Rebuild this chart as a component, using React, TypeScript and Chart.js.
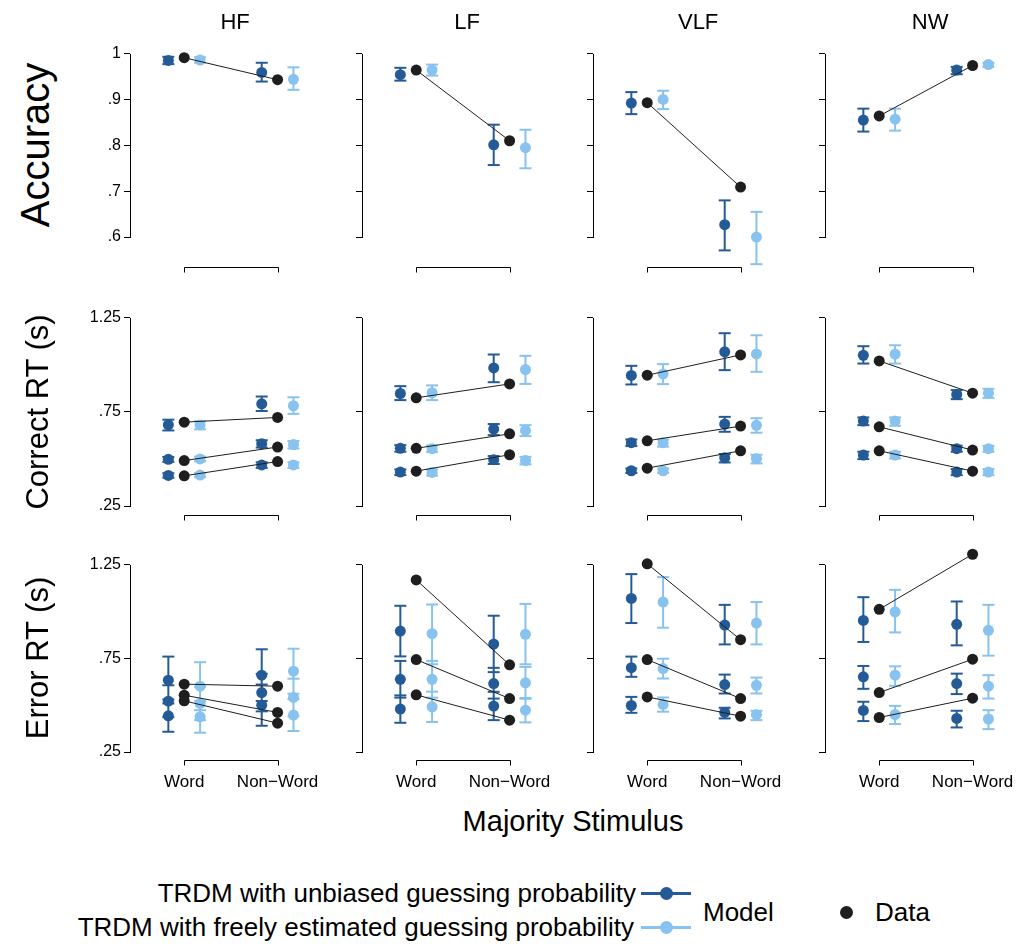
import React, { useEffect, useRef } from "react";
import { Chart, registerables } from "chart.js";
Chart.register(...registerables);

// ---------------- DATA ----------------
const PANELS = ["HF", "LF", "VLF", "NW"];
const ROW_LABELS = ["Accuracy", "Correct RT (s)", "Error RT (s)"];
const CATEGORIES = ["Word", "Non\u2212Word"];
const ACC_TICKS = [0.6, 0.7, 0.8, 0.9, 1];
const ACC_TICK_LABELS = [".6", ".7", ".8", ".9", "1"];
const RT_TICKS = [0.25, 0.75, 1.25];
const RT_TICK_LABELS = [".25", ".75", "1.25"];
const X_LABEL = "Majority Stimulus";
const LEGEND_UNBIASED = "TRDM with unbiased guessing probability";
const LEGEND_FREE = "TRDM with freely estimated guessing probability";
const LEGEND_MODEL = "Model";
const LEGEND_DATA = "Data";

// Accuracy: per panel [Word, Non-Word]
const accData = [[0.991, 0.943], [0.964, 0.810], [0.893, 0.709], [0.864, 0.974]];
const accUnb = [[0.985, 0.959], [0.954, 0.801], [0.892, 0.627], [0.855, 0.964]];
const accUnbLo = [[0.977, 0.939], [0.941, 0.757], [0.868, 0.571], [0.830, 0.955]];
const accUnbHi = [[0.993, 0.980], [0.969, 0.845], [0.916, 0.680], [0.880, 0.971]];
const accFree = [[0.986, 0.944], [0.964, 0.795], [0.900, 0.600], [0.857, 0.976]];
const accFreeLo = [[0.980, 0.921], [0.952, 0.750], [0.879, 0.541], [0.832, 0.971]];
const accFreeHi = [[0.992, 0.970], [0.976, 0.834], [0.919, 0.655], [0.880, 0.980]];

// Correct RT: per panel, per quantile (.1, .5, .9), [Word, Non-Word]
const crtData = [
  [[0.410, 0.486], [0.491, 0.563], [0.695, 0.720]],
  [[0.435, 0.522], [0.556, 0.633], [0.824, 0.898]],
  [[0.451, 0.543], [0.596, 0.674], [0.944, 1.052]],
  [[0.543, 0.435], [0.670, 0.547], [1.020, 0.849]],
];
const crtUnb = [
  [[0.412, 0.468], [0.498, 0.581], [0.681, 0.792]],
  [[0.430, 0.496], [0.556, 0.658], [0.847, 0.983]],
  [[0.437, 0.506], [0.586, 0.685], [0.943, 1.068]],
  [[0.520, 0.430], [0.701, 0.554], [1.050, 0.842]],
];
const crtUnbLo = [
  [[0.400, 0.452], [0.484, 0.560], [0.651, 0.754]],
  [[0.414, 0.473], [0.538, 0.626], [0.812, 0.907]],
  [[0.425, 0.481], [0.568, 0.644], [0.895, 0.971]],
  [[0.499, 0.414], [0.679, 0.538], [1.006, 0.817]],
];
const crtUnbHi = [
  [[0.424, 0.482], [0.510, 0.599], [0.708, 0.831]],
  [[0.444, 0.515], [0.573, 0.685], [0.886, 1.054]],
  [[0.449, 0.526], [0.603, 0.723], [0.994, 1.167]],
  [[0.538, 0.446], [0.720, 0.570], [1.098, 0.865]],
];
const crtFree = [
  [[0.414, 0.468], [0.500, 0.576], [0.680, 0.782]],
  [[0.428, 0.492], [0.554, 0.651], [0.851, 0.974]],
  [[0.437, 0.501], [0.586, 0.678], [0.951, 1.057]],
  [[0.520, 0.430], [0.701, 0.554], [1.056, 0.849]],
];
const crtFreeLo = [
  [[0.403, 0.452], [0.487, 0.555], [0.657, 0.739]],
  [[0.411, 0.471], [0.536, 0.621], [0.812, 0.898]],
  [[0.425, 0.476], [0.565, 0.639], [0.897, 0.962]],
  [[0.502, 0.414], [0.676, 0.538], [1.006, 0.824]],
];
const crtFreeHi = [
  [[0.425, 0.482], [0.512, 0.595], [0.700, 0.827]],
  [[0.444, 0.511], [0.571, 0.679], [0.890, 1.047]],
  [[0.449, 0.522], [0.603, 0.716], [1.003, 1.156]],
  [[0.538, 0.446], [0.720, 0.569], [1.103, 0.872]],
];

// Error RT: per panel, per quantile (.1, .5, .9), [Word, Non-Word]
const ertData = [
  [[0.523, 0.404], [0.553, 0.461], [0.612, 0.601]],
  [[0.555, 0.420], [0.743, 0.535], [1.168, 0.715]],
  [[0.544, 0.441], [0.743, 0.535], [1.254, 0.849]],
  [[0.434, 0.537], [0.567, 0.745], [1.011, 1.305]],
];
const ertUnb = [
  [[0.443, 0.500], [0.521, 0.567], [0.633, 0.660]],
  [[0.479, 0.495], [0.638, 0.615], [0.895, 0.826]],
  [[0.498, 0.461], [0.700, 0.610], [1.069, 0.927]],
  [[0.472, 0.429], [0.651, 0.615], [0.952, 0.931]],
];
const ertUnbLo = [
  [[0.358, 0.390], [0.436, 0.467], [0.509, 0.522]],
  [[0.406, 0.420], [0.540, 0.535], [0.760, 0.676]],
  [[0.459, 0.429], [0.651, 0.562], [0.938, 0.824]],
  [[0.415, 0.381], [0.587, 0.559], [0.837, 0.819]],
];
const ertUnbHi = [
  [[0.530, 0.610], [0.606, 0.667], [0.759, 0.798]],
  [[0.552, 0.571], [0.736, 0.699], [1.030, 0.977]],
  [[0.544, 0.486], [0.759, 0.663], [1.199, 1.035]],
  [[0.518, 0.470], [0.709, 0.668], [1.076, 1.053]],
];
const ertFree = [
  [[0.438, 0.447], [0.509, 0.541], [0.601, 0.681]],
  [[0.491, 0.473], [0.638, 0.619], [0.881, 0.878]],
  [[0.504, 0.449], [0.695, 0.606], [1.050, 0.938]],
  [[0.450, 0.426], [0.660, 0.601], [0.998, 0.899]],
];
const ertFreeLo = [
  [[0.353, 0.362], [0.420, 0.441], [0.473, 0.561]],
  [[0.410, 0.408], [0.540, 0.534], [0.718, 0.718]],
  [[0.465, 0.420], [0.642, 0.562], [0.913, 0.824]],
  [[0.399, 0.372], [0.603, 0.535], [0.888, 0.764]],
];
const ertFreeHi = [
  [[0.523, 0.532], [0.598, 0.641], [0.729, 0.801]],
  [[0.572, 0.538], [0.736, 0.704], [1.037, 1.040]],
  [[0.541, 0.470], [0.748, 0.647], [1.183, 1.050]],
  [[0.496, 0.473], [0.707, 0.660], [1.115, 1.035]],
];

// ---------------- STYLE / LAYOUT ----------------
const FONT = "'Liberation Sans', Arial, Helvetica, sans-serif";
const DARK = "#245b97";
const LIGHT = "#88c2ee";
const BLACK = "#1e1e1e";

const COL_AXIS_X = [130, 362, 593, 825];
const ROW_TOP = [53, 317, 564]; // pixel of top tick
const ROW_BOTTOM = [237, 506, 752]; // pixel of bottom tick
const EXTRA_TOP = [10, 10, 16]; // plot area beyond top tick (px)
const EXTRA_BOTTOM = [34, 0, 0]; // plot area beyond bottom tick (px)
const BRACKET_OFFSET = [30, 9, 8];
const ROW_LABEL_SIZE = [40, 31, 31];
const ROW_LABEL_X = [35, 37, 37];
const Y_AXIS_W = 60;
const PLOT_W = 198;
const PAD_TOP = 12;
const X_AXIS_H = 50;
const PX_PER_UNIT = 97.3;
const WORD_OFFSET_PX = 56.5;
const SERIES_OFF = 0.17;

type Q = number[][];

function rowSets(row: number, p: number) {
  if (row === 0) {
    const w = (a: number[][]) => [a[p]];
    return {
      data: w(accData), unb: w(accUnb), unbLo: w(accUnbLo), unbHi: w(accUnbHi),
      free: w(accFree), freeLo: w(accFreeLo), freeHi: w(accFreeHi),
      ticks: ACC_TICKS, labels: ACC_TICK_LABELS,
    };
  }
  if (row === 1) {
    return {
      data: crtData[p], unb: crtUnb[p], unbLo: crtUnbLo[p], unbHi: crtUnbHi[p],
      free: crtFree[p], freeLo: crtFreeLo[p], freeHi: crtFreeHi[p],
      ticks: RT_TICKS, labels: RT_TICK_LABELS,
    };
  }
  return {
    data: ertData[p], unb: ertUnb[p], unbLo: ertUnbLo[p], unbHi: ertUnbHi[p],
    free: ertFree[p], freeLo: ertFreeLo[p], freeHi: ertFreeHi[p],
    ticks: RT_TICKS, labels: RT_TICK_LABELS,
  };
}

function errPts(lo: Q, hi: Q, off: number) {
  const pts: any[] = [];
  lo.forEach((q, qi) =>
    q.forEach((v, c) => {
      pts.push({ x: c + 1 + off, y: v });
      pts.push({ x: c + 1 + off, y: hi[qi][c] });
      pts.push({ x: c + 1 + off, y: null });
    })
  );
  return pts;
}
function meanPts(m: Q, off: number) {
  const pts: any[] = [];
  m.forEach((q) => q.forEach((v, c) => pts.push({ x: c + 1 + off, y: v })));
  return pts;
}
function dataPts(d: Q) {
  const pts: any[] = [];
  d.forEach((q) => {
    pts.push({ x: 1, y: q[0] });
    pts.push({ x: 2, y: q[1] });
    pts.push({ x: 1.5, y: null });
  });
  return pts;
}

function Panel({ row, col }: { row: number; col: number }) {
  const ref = useRef<HTMLCanvasElement>(null);
  const areaTop = ROW_TOP[row] - EXTRA_TOP[row];
  const areaBottom = ROW_BOTTOM[row] + EXTRA_BOTTOM[row];
  const height = PAD_TOP + (areaBottom - areaTop) + X_AXIS_H;
  const width = Y_AXIS_W + PLOT_W;
  useEffect(() => {
    const s = rowSets(row, col);
    const tMin = s.ticks[0];
    const tMax = s.ticks[s.ticks.length - 1];
    const ppu = (ROW_BOTTOM[row] - ROW_TOP[row]) / (tMax - tMin);
    const ymin = tMin - EXTRA_BOTTOM[row] / ppu;
    const ymax = tMax + EXTRA_TOP[row] / ppu;
    const xmin = 1 - WORD_OFFSET_PX / PX_PER_UNIT;
    const xmax = xmin + PLOT_W / PX_PER_UNIT;
    const axes = {
      id: "rAxes",
      afterDraw(chart: any) {
        const ctx = chart.ctx;
        const xs = chart.scales.x;
        const ys = chart.scales.y;
        const yTop = ys.getPixelForValue(tMax);
        const yBot = ys.getPixelForValue(tMin);
        const ax = Math.round(chart.chartArea.left - 0.5) + 0.5;
        ctx.save();
        ctx.strokeStyle = "#000";
        ctx.lineWidth = 1;
        // y axis line only over the tick range
        ctx.beginPath();
        ctx.moveTo(ax, Math.round(yTop));
        ctx.lineTo(ax, Math.round(yBot) + 1);
        ctx.stroke();
        // x axis bracket between the two categories
        const y = Math.round(yBot + BRACKET_OFFSET[row]) + 0.5;
        const x1 = Math.round(xs.getPixelForValue(1)) + 0.5;
        const x2 = Math.round(xs.getPixelForValue(2)) + 0.5;
        ctx.beginPath();
        ctx.moveTo(x1, y + 5);
        ctx.lineTo(x1, y);
        ctx.lineTo(x2, y);
        ctx.lineTo(x2, y + 5);
        ctx.stroke();
        ctx.restore();
      },
    };
    const common = { clip: false as any };
    const chart = new Chart(ref.current as HTMLCanvasElement, {
      type: "scatter",
      data: {
        datasets: [
          {
            ...common,
            data: dataPts(s.data),
            showLine: true,
            spanGaps: false,
            borderColor: BLACK,
            borderWidth: 1,
            pointRadius: 5.5,
            pointBackgroundColor: BLACK,
            pointBorderWidth: 0,
          },
          {
            ...common,
            data: meanPts(s.unb, -SERIES_OFF),
            pointRadius: 5.5,
            pointBackgroundColor: DARK,
            pointBorderWidth: 0,
          },
          {
            ...common,
            data: meanPts(s.free, SERIES_OFF),
            pointRadius: 5.5,
            pointBackgroundColor: LIGHT,
            pointBorderWidth: 0,
          },
          {
            ...common,
            data: errPts(s.unbLo, s.unbHi, -SERIES_OFF),
            showLine: true,
            spanGaps: false,
            borderColor: DARK,
            borderWidth: 2,
            pointStyle: "line",
            pointRadius: 6,
            pointBorderColor: DARK,
            pointBorderWidth: 2,
          },
          {
            ...common,
            data: errPts(s.freeLo, s.freeHi, SERIES_OFF),
            showLine: true,
            spanGaps: false,
            borderColor: LIGHT,
            borderWidth: 2,
            pointStyle: "line",
            pointRadius: 6,
            pointBorderColor: LIGHT,
            pointBorderWidth: 2,
          },
        ] as any,
      },
      options: {
        animation: false,
        responsive: false,
        maintainAspectRatio: false,
        events: [],
        layout: { padding: { top: PAD_TOP, left: 0, right: 0, bottom: 0 } },
        plugins: { legend: { display: false }, tooltip: { enabled: false } },
        scales: {
          x: {
            type: "linear",
            min: xmin,
            max: xmax,
            afterBuildTicks: (sc: any) => {
              sc.ticks = [{ value: 1 }, { value: 2 }];
            },
            afterFit: (sc: any) => {
              sc.height = X_AXIS_H;
            },
            ticks: {
              display: row === 2,
              autoSkip: false,
              maxRotation: 0,
              padding: 0,
              color: "#000",
              font: { family: FONT, size: 17 },
              callback: (v: any) => (v === 1 ? CATEGORIES[0] : CATEGORIES[1]),
            },
            grid: {
              display: true,
              drawOnChartArea: false,
              drawTicks: true,
              tickLength: 20,
              color: "rgba(0,0,0,0)",
            },
            border: { display: false },
          },
          y: {
            type: "linear",
            min: ymin,
            max: ymax,
            afterBuildTicks: (sc: any) => {
              sc.ticks = s.ticks.map((v) => ({ value: v }));
            },
            afterFit: (sc: any) => {
              sc.width = Y_AXIS_W;
            },
            ticks: {
              padding: 3,
              color: "#000",
              font: { family: FONT, size: 16 },
              callback: (_v: any, i: number) => (col === 0 ? s.labels[i] : ""),
            },
            grid: {
              display: true,
              drawOnChartArea: false,
              drawTicks: true,
              tickLength: 6,
              color: "#000",
              lineWidth: 1,
            },
            border: { display: true, color: "rgba(0,0,0,0)", width: 1 },
          },
        },
      } as any,
      plugins: [axes],
    });
    return () => chart.destroy();
  }, [row, col]);
  return (
    <canvas
      ref={ref}
      width={width}
      height={height}
      style={{
        position: "absolute",
        left: COL_AXIS_X[col] - Y_AXIS_W,
        top: areaTop - PAD_TOP,
        width,
        height,
      }}
    />
  );
}

const txt = (extra: React.CSSProperties): React.CSSProperties => ({
  position: "absolute",
  fontFamily: FONT,
  color: "#000",
  whiteSpace: "nowrap",
  lineHeight: 1,
  ...extra,
});

export default function App() {
  const cells: JSX.Element[] = [];
  for (let r = 0; r < 3; r++) for (let c = 0; c < 4; c++) cells.push(<Panel key={r + "-" + c} row={r} col={c} />);
  const titleX = COL_AXIS_X.map((a) => a + WORD_OFFSET_PX + PX_PER_UNIT / 2);
  return (
    <div style={{ position: "absolute", left: 0, top: 0, width: 1027, height: 944, background: "#fff", overflow: "hidden" }}>
      {cells}
      {PANELS.map((p, i) => (
        <div key={p} style={txt({ left: titleX[i], top: 22, fontSize: 22, transform: "translate(-50%,-50%)" })}>{p}</div>
      ))}
      {ROW_LABELS.map((l, i) => (
        <div
          key={l}
          style={txt({
            left: ROW_LABEL_X[i],
            top: (ROW_TOP[i] + ROW_BOTTOM[i]) / 2,
            fontSize: ROW_LABEL_SIZE[i],
            transform: "translate(-50%,-50%) rotate(-90deg)",
          })}
        >
          {l}
        </div>
      ))}
      <div style={txt({ left: 573, top: 821, fontSize: 29, transform: "translate(-50%,-50%)" })}>{X_LABEL}</div>
      <div style={txt({ left: 636, top: 893, fontSize: 26, transform: "translate(-100%,-50%)" })}>{LEGEND_UNBIASED}</div>
      <div style={txt({ left: 634, top: 927, fontSize: 26, transform: "translate(-100%,-50%)" })}>{LEGEND_FREE}</div>
      <div style={{ position: "absolute", left: 641, top: 892, width: 50, height: 3, background: DARK }} />
      <div style={{ position: "absolute", left: 660, top: 887, width: 13, height: 13, borderRadius: "50%", background: DARK }} />
      <div style={{ position: "absolute", left: 641, top: 926, width: 50, height: 3, background: LIGHT }} />
      <div style={{ position: "absolute", left: 660, top: 921, width: 13, height: 13, borderRadius: "50%", background: LIGHT }} />
      <div style={txt({ left: 703, top: 912, fontSize: 26, transform: "translate(0,-50%)" })}>{LEGEND_MODEL}</div>
      <div style={{ position: "absolute", left: 840, top: 906, width: 13, height: 13, borderRadius: "50%", background: BLACK }} />
      <div style={txt({ left: 875, top: 912, fontSize: 26, transform: "translate(0,-50%)" })}>{LEGEND_DATA}</div>
    </div>
  );
}
